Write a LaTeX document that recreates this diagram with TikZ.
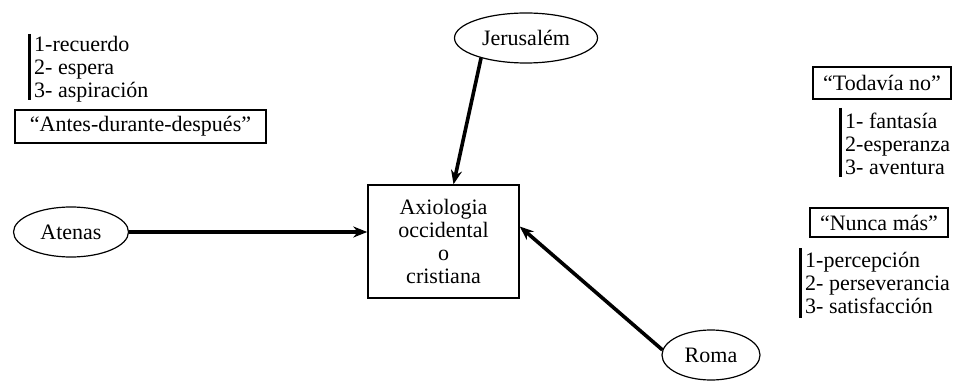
\documentclass[tikz,border=0pt]{standalone}
\usepackage{fontspec}
\setmainfont{Liberation Serif}
\usetikzlibrary{arrows.meta,shapes.geometric}
\begin{document}
\begin{tikzpicture}[x=1pt,y=-1pt,
  txt/.style={font=\fontsize{22}{23}\selectfont},
  oval/.style={txt,draw,line width=1.2pt,ellipse,inner sep=0pt},
  qbox/.style={txt,draw,line width=1.5pt,rectangle,inner sep=0pt},
  lst/.style={txt,align=left,anchor=west,inner sep=0pt},
  bar/.style={line width=3pt},
  arr/.style={line width=3.6pt,-{Stealth[length=14pt,width=11pt]}}
]
\useasboundingbox (0,0) rectangle (955,382);
% central box
\node[txt,draw,line width=1.5pt,minimum width=151pt,minimum height=113pt,align=center,inner sep=0pt] (ax) at (443.5,241.5) {Axiologia\\occidental\\o\\cristiana};
% ellipses
\node[oval,minimum width=143pt,minimum height=50pt] (jer) at (526,38) {Jerusalém};
\node[oval,minimum width=115pt,minimum height=50pt] (ate) at (71,232) {Atenas};
\node[oval,minimum width=98pt,minimum height=50pt] (rom) at (711,355) {Roma};
% arrows
\draw[arr] (jer.204) -- ([xshift=10pt]ax.north);
\draw[arr] (ate.east) -- (ate.east -| ax.west);
\draw[arr] (rom.174) -- ([yshift=15pt]ax.east);
% quote boxes
\node[qbox,minimum width=251pt,minimum height=33pt] (antes) at (140.5,126.5) {``Antes-durante-después''};
\node[qbox,minimum width=138pt,minimum height=32pt] (tod) at (882,83) {``Todavía no''};
\node[qbox,minimum width=138pt,minimum height=29pt] (nun) at (879,222.5) {``Nunca más''};
% lists
\node[lst] (l1) at (34,69) {1-recuerdo\\2- espera\\3- aspiración};
\draw[bar] (29,34) -- (29,100);
\node[lst] (l2) at (845,144) {1- fantasía\\2-esperanza\\3- aventura};
\draw[bar] (840,108) -- (840,177);
\node[lst] (l3) at (805,283) {1-percepción\\2- perseverancia\\3- satisfacción};
\draw[bar] (800,248) -- (800,318);
\end{tikzpicture}
\end{document}
